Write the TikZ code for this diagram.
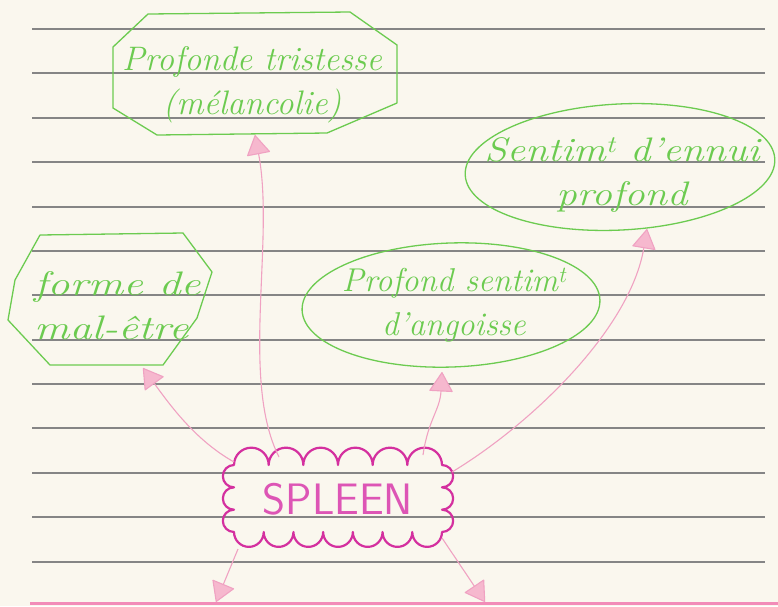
\documentclass[tikz,border=0pt]{standalone}
\usepackage{graphicx}
\usetikzlibrary{arrows.meta,shapes.geometric,calc}
\definecolor{paper}{HTML}{FAF7EE}
\definecolor{rulegray}{HTML}{858585}
\definecolor{hgreen}{HTML}{6CCB50}
\definecolor{cloudpink}{HTML}{D4309F}
\definecolor{spleentext}{HTML}{DD55B5}
\definecolor{linkpink}{HTML}{F0A2C2}
\definecolor{tipfill}{HTML}{F6B8CE}
\definecolor{edgepink}{HTML}{F28CB8}
\begin{document}
\begin{tikzpicture}[x=1pt,y=1pt,
  ruled/.style={draw=rulegray, line width=1.1pt},
  greenshape/.style={draw=hgreen, line width=1.3pt, line join=round},
  hand/.style={text=hgreen, font=\fontsize{34}{44}\selectfont\itshape, align=center, inner sep=0pt},
  cloudline/.style={draw=cloudpink, line width=2.2pt, line join=round},
  link/.style={draw=linkpink, line width=1.1pt, -{Triangle[length=20pt,width=24pt,fill=tipfill,round]}},
]
% paper
\fill[paper] (0,0) rectangle (778,-606);
\useasboundingbox (0,0) rectangle (778,-606);
% ruled lines
\foreach \yy in {29,73,118,162,207,251,295,340,384,428,473,517,562}
  \draw[ruled] (32,-\yy) -- (765,-\yy);
\draw[edgepink, line width=3pt] (30,-603) -- (778,-603);

% octagon: Profonde tristesse
\draw[greenshape] (148,-14) -- (350,-12) -- (397,-45) -- (397,-103) -- (327,-133) -- (157,-135) -- (113,-108) -- (113,-47) -- cycle;
\node[hand] (tristesse) at (252,-85) {Profonde tristesse\\(mélancolie)};
\coordinate (tristesse-b) at (255,-135);

% ellipse: ennui
\node[ellipse, greenshape, minimum width=310pt, minimum height=126pt, rotate=3, inner sep=0pt] (ennuibox) at (620,-167) {};
\node[hand] (ennui) at (622,-175) {\scalebox{1.2}[1]{Sentim\textsuperscript{t} d'ennui}\\\scalebox{1.2}[1]{profond}};
\coordinate (ennui-b) at (647,-229);

% hexagon: forme de mal-etre
\draw[greenshape] (40,-235) -- (183,-233) -- (212,-272) -- (197,-318) -- (163,-365) -- (50,-365) -- (8,-320) -- (15,-280) -- cycle;
\node[hand, align=left, anchor=west] (forme) at (34,-306) {\scalebox{1.3}[1]{forme de}\\\scalebox{1.3}[1]{mal-être}};
\coordinate (forme-b) at (143,-368);

% ellipse: angoisse
\node[ellipse, greenshape, minimum width=298pt, minimum height=124pt, rotate=2, inner sep=0pt] (angoissebox) at (451,-305) {};
\node[hand, font=\fontsize{33}{44}\selectfont\itshape] (angoisse) at (454,-305) {Profond sentim\textsuperscript{t}\\d'angoisse};
\coordinate (angoisse-b) at (442,-372);

% cloud
\draw[cloudline] (234,-465)
  arc[start angle=180,end angle=0,radius=17.333]
  arc[start angle=180,end angle=0,radius=17.333]
  arc[start angle=180,end angle=0,radius=17.333]
  arc[start angle=180,end angle=0,radius=17.333]
  arc[start angle=180,end angle=0,radius=17.333]
  arc[start angle=180,end angle=0,radius=17.333]
  arc[start angle=90,end angle=-90,radius=11.167]
  arc[start angle=90,end angle=-90,radius=11.167]
  arc[start angle=90,end angle=-90,radius=11.167]
  arc[start angle=0,end angle=-180,radius=14.857]
  arc[start angle=0,end angle=-180,radius=14.857]
  arc[start angle=0,end angle=-180,radius=14.857]
  arc[start angle=0,end angle=-180,radius=14.857]
  arc[start angle=0,end angle=-180,radius=14.857]
  arc[start angle=0,end angle=-180,radius=14.857]
  arc[start angle=0,end angle=-180,radius=14.857]
  arc[start angle=270,end angle=90,radius=11.167]
  arc[start angle=270,end angle=90,radius=11.167]
  arc[start angle=270,end angle=90,radius=11.167]
  -- cycle;
\node[minimum width=208pt, minimum height=67pt, inner sep=0pt, text=spleentext, font=\fontsize{44}{50}\selectfont\sffamily] (spleen) at (338,-499) {SPLEEN};
\coordinate (bl-end) at (216,-602);
\coordinate (br-end) at (485,-602);

% links
\draw[link] ($(spleen.center)+(-59,42)$) .. controls (240,-380) and (275,-240) .. (tristesse-b);
\draw[link] ($(spleen.center)+(-104,37)$) .. controls (195,-440) and (170,-405) .. (forme-b);
\draw[link] ($(spleen.center)+(85,44)$) .. controls (428,-420) and (440,-410) .. (angoisse-b);
\draw[link] ($(spleen.center)+(114,27)$) .. controls (530,-425) and (630,-330) .. (ennui-b);
\draw[link] ($(spleen.center)+(-100,-50)$) -- (bl-end);
\draw[link] ($(spleen.center)+(104,-39)$) -- (br-end);
\end{tikzpicture}
\end{document}
